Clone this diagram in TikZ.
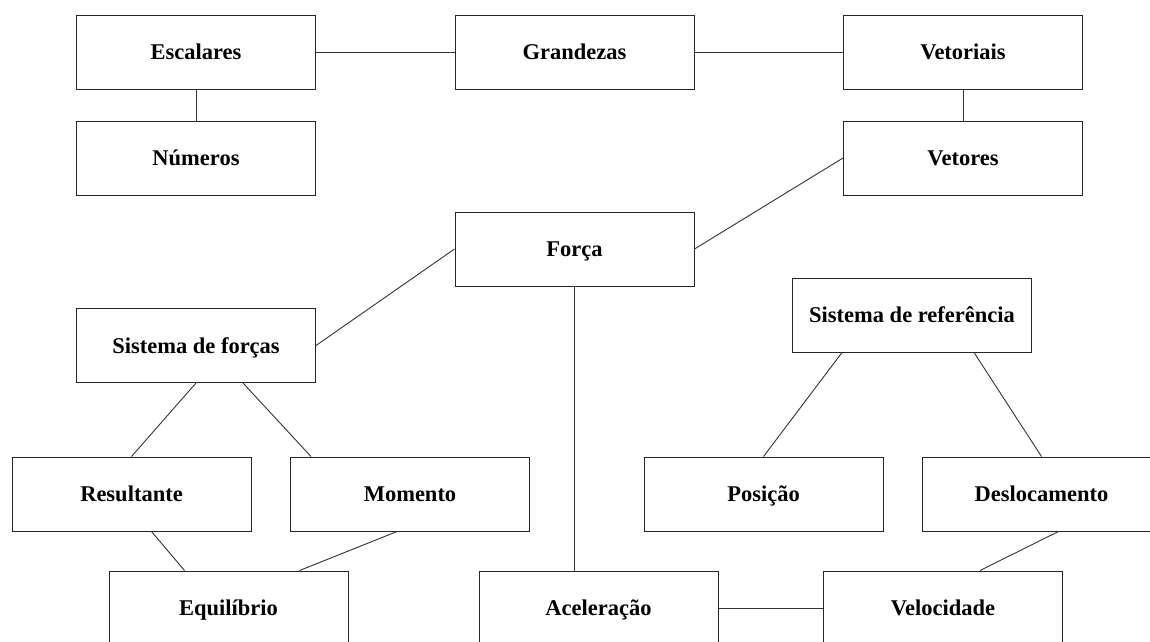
\documentclass[tikz,border=0pt]{standalone}
\usepackage{fontspec}
\setmainfont{Liberation Serif}
\usetikzlibrary{calc}
\begin{document}
\begin{tikzpicture}[x=1pt,y=-1pt,
  box/.style={draw=black!85,line width=1pt,fill=white,minimum width=239pt,minimum height=74pt,inner sep=0pt,
    text height=18pt,text depth=3pt,
    font=\fontsize{22.5}{27}\selectfont\bfseries},
  link/.style={draw=black!80,line width=0.9pt}]
\path[use as bounding box,clip] (0,0) rectangle (1150,641);
\fill[white] (0,0) rectangle (1150,641);
% nodes
\node[box] (esc) at (196,52) {Escalares};
\node[box] (num) at (196,158) {Números};
\node[box] (gra) at (574.5,52) {Grandezas};
\node[box] (vet) at (963,52) {Vetoriais};
\node[box] (vtr) at (963,158) {Vetores};
\node[box] (for) at (574.5,249) {Força};
\node[box] (sf) at (196,345.5) {Sistema de forças};
\node[box] (sr) at (912,315) {Sistema de referência};
\node[box] (res) at (131.5,494) {Resultante};
\node[box] (mom) at (410,494) {Momento};
\node[box] (pos) at (763.5,494) {Posição};
\node[box] (des) at (1041.5,494) {Deslocamento};
\node[box] (equ) at (228.5,608) {Equilíbrio};
\node[box] (ace) at (598.5,608) {Aceleração};
\node[box] (vel) at (943,608) {Velocidade};
% connectors
\draw[link] (esc.east) -- (gra.west);
\draw[link] (gra.east) -- (vet.west);
\draw[link] (esc.south) -- (num.north);
\draw[link] (vet.south) -- (vtr.north);
\draw[link] (for.east) -- (vtr.west);
\draw[link] (for.west) -- (sf.east);
\draw[link] (for.south) -- (for.south |- ace.north);
\draw[link] (sf.south) -- (res.north);
\draw[link] ([xshift=47pt]sf.south) -- ([xshift=21pt]mom.north west);
\draw[link] ([xshift=140pt]res.south west) -- ([xshift=76pt]equ.north west);
\draw[link] ([xshift=107pt]mom.south west) -- ([xshift=191pt]equ.north west);
\draw[link] ([xshift=50pt]sr.south west) -- (pos.north);
\draw[link] ([xshift=182pt]sr.south west) -- (des.north);
\draw[link] ([xshift=137pt]des.south west) -- ([xshift=157pt]vel.north west);
\draw[link] (ace.east) -- (vel.west);
\end{tikzpicture}
\end{document}
